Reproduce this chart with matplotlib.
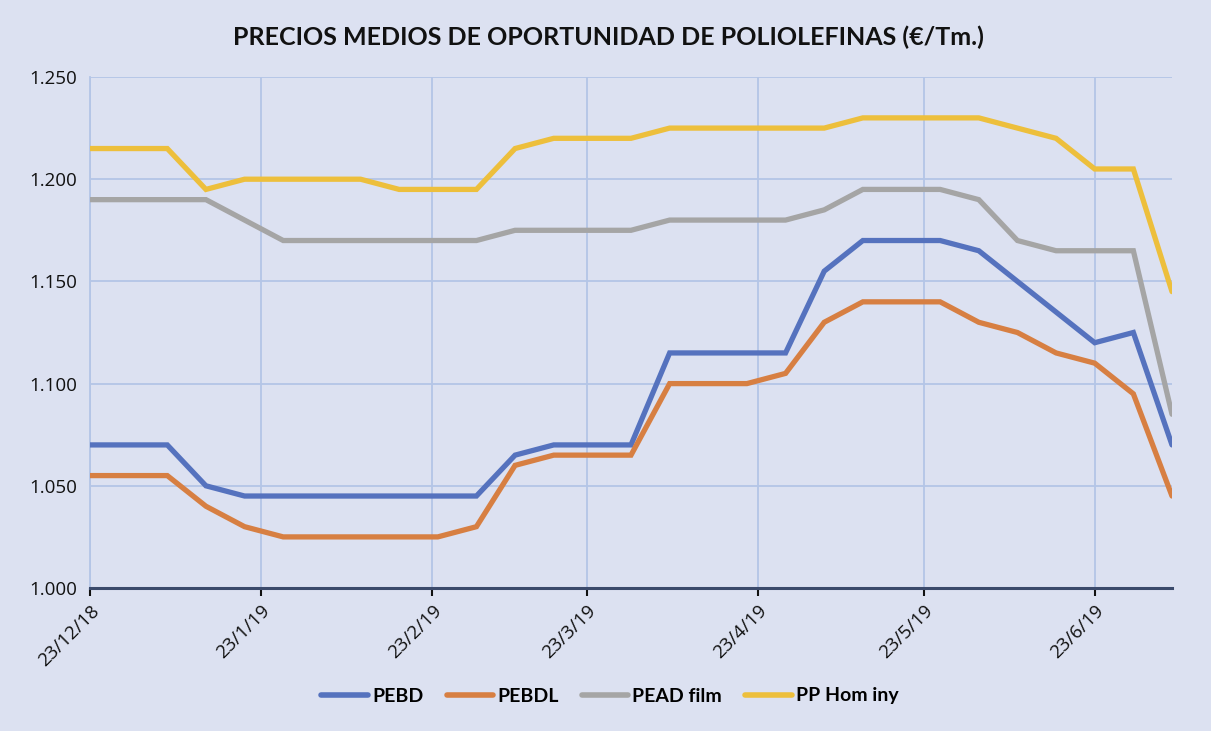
import matplotlib
matplotlib.use("Agg")
import matplotlib.pyplot as plt
from matplotlib.ticker import FuncFormatter, MultipleLocator
import datetime as dt

dates = ["2018-12-23", "2018-12-30", "2019-01-06", "2019-01-13", "2019-01-20",
         "2019-01-27", "2019-02-03", "2019-02-10", "2019-02-17", "2019-02-24",
         "2019-03-03", "2019-03-10", "2019-03-17", "2019-03-24", "2019-03-31",
         "2019-04-07", "2019-04-14", "2019-04-21", "2019-04-28", "2019-05-05",
         "2019-05-12", "2019-05-19", "2019-05-26", "2019-06-02", "2019-06-09",
         "2019-06-16", "2019-06-23", "2019-06-30", "2019-07-07"]

pebd = [1070, 1070, 1070, 1050, 1045, 1045, 1045, 1045, 1045, 1045,
        1045, 1065, 1070, 1070, 1070, 1115, 1115, 1115, 1115, 1155,
        1170, 1170, 1170, 1165, 1150, 1135, 1120, 1125, 1070]
pebdl = [1055, 1055, 1055, 1040, 1030, 1025, 1025, 1025, 1025, 1025,
         1030, 1060, 1065, 1065, 1065, 1100, 1100, 1100, 1105, 1130,
         1140, 1140, 1140, 1130, 1125, 1115, 1110, 1095, 1045]
pead_film = [1190, 1190, 1190, 1190, 1180, 1170, 1170, 1170, 1170, 1170,
             1170, 1175, 1175, 1175, 1175, 1180, 1180, 1180, 1180, 1185,
             1195, 1195, 1195, 1190, 1170, 1165, 1165, 1165, 1085]
pp_hom = [1215, 1215, 1215, 1195, 1200, 1200, 1200, 1200, 1195, 1195,
          1195, 1215, 1220, 1220, 1220, 1225, 1225, 1225, 1225, 1225,
          1230, 1230, 1230, 1230, 1225, 1220, 1205, 1205, 1145]

series_names = ["PEBD", "PEBDL", "PEAD film", "PP Hom iny"]
series_values = [pebd, pebdl, pead_film, pp_hom]
colors = ["#5572BE", "#D77F42", "#A5A5A5", "#EDBF3C"]

tick_dates = ["2018-12-23", "2019-01-23", "2019-02-23", "2019-03-23",
              "2019-04-23", "2019-05-23", "2019-06-23"]
tick_labels = ["23/12/18", "23/1/19", "23/2/19", "23/3/19", "23/4/19",
               "23/5/19", "23/6/19"]
title = "PRECIOS MEDIOS DE OPORTUNIDAD DE POLIOLEFINAS (€/Tm.)"

bg = "#DCE1F1"
grid_c = "#B4C5E6"

x = [dt.datetime.strptime(d, "%Y-%m-%d") for d in dates]
xt = [dt.datetime.strptime(d, "%Y-%m-%d") for d in tick_dates]

fig = plt.figure(figsize=(12.11, 7.31), dpi=100, facecolor=bg)
ax = fig.add_axes([90/1211, 1-588/731, (1172-90)/1211, (588-77)/731])
ax.set_facecolor(bg)

for name, vals, c in zip(series_names, series_values, colors):
    ax.plot(x, vals, color=c, lw=3.8, label=name, solid_joinstyle="miter",
            solid_capstyle="round", zorder=3)

ax.set_xlim(x[0], x[-1])
ax.set_ylim(1000, 1250)
ax.yaxis.set_major_locator(MultipleLocator(50))
ax.yaxis.set_major_formatter(FuncFormatter(lambda v, p: f"{int(round(v)):,}".replace(",", ".")))
ax.set_xticks(xt)
ax.set_xticklabels(tick_labels, rotation=45, ha="right", rotation_mode="anchor",
                   fontsize=13.5, family="Open Sans")
for lbl in ax.get_yticklabels():
    lbl.set_family("Open Sans")
ax.tick_params(axis="y", length=0, pad=9, labelsize=13.5, colors="#111111")
ax.tick_params(axis="x", length=6, width=1.5, pad=4, colors="#111111")
for t in ax.xaxis.get_major_ticks():
    t.tick1line.set_color("#3B4A6B")

ax.grid(True, color=grid_c, lw=1.3, zorder=0)
ax.set_axisbelow(True)
for s in ["top", "right"]:
    ax.spines[s].set_visible(False)
ax.spines["left"].set_color(grid_c)
ax.spines["left"].set_linewidth(1.3)
ax.spines["bottom"].set_color("#3B4A6B")
ax.spines["bottom"].set_linewidth(2.2)
ax.spines["bottom"].set_zorder(4)

fig.text(608/1211, 1-37/731, title, ha="center", va="center",
         fontsize=18, fontweight="bold", family="Lato", color="#111111")

leg = fig.legend(loc="center", bbox_to_anchor=(610/1211, 1-696/731), ncol=4,
                 frameon=False, handlelength=2.4, columnspacing=1.2, handletextpad=0.2,
                 prop={"family": "Lato", "weight": "bold", "size": 14})
for line in leg.get_lines():
    line.set_linewidth(4)

fig.savefig("out.png", dpi=100, facecolor=bg)
